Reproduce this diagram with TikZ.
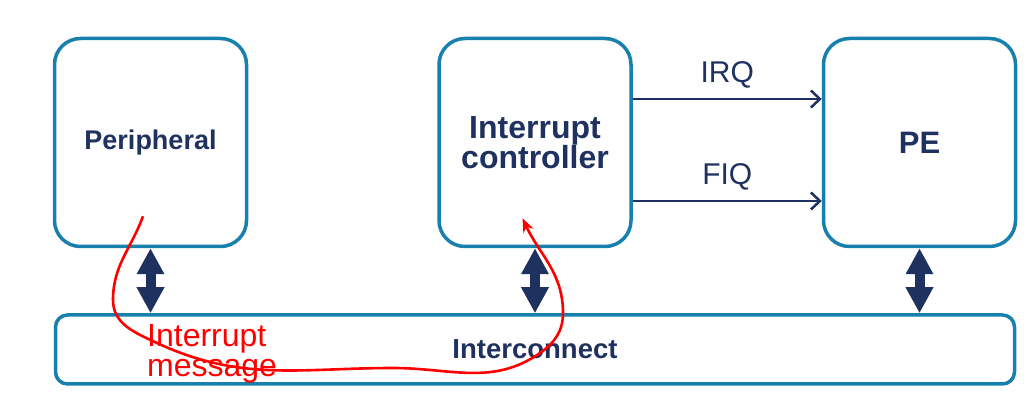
\documentclass[tikz,border=0pt]{standalone}
\usepackage{fontspec}
\setmainfont{Liberation Sans}
\usetikzlibrary{arrows.meta,positioning}
\definecolor{boxblue}{RGB}{24,128,172}
\definecolor{navy}{RGB}{31,49,94}

\begin{document}
\begin{tikzpicture}[
	x = 1pt, y = 1pt,
	> = {Straight Barb[length=9pt,width=17pt]}, % arrow head style
	node distance = 189pt, % gap between the blocks
	B/.style={rectangle, rounded corners=26pt, draw=boxblue, line width=3.5pt, minimum width=192pt, minimum height=208pt, inner sep=0pt, align=center, text=navy},
	bus/.style={rectangle, rounded corners=12pt, draw=boxblue, line width=3.5pt, minimum width=959pt, minimum height=69pt, inner sep=0pt, text=navy, font=\bfseries\fontsize{27.5}{30}\selectfont},
	link/.style={draw=navy, line width=10pt, {Triangle[length=26pt,width=26pt]}-{Triangle[length=26pt,width=26pt]}},
	sig/.style={->, draw=navy, line width=2.5pt},
	lbl/.style={inner sep=0pt, text=navy, font=\fontsize{30}{30}\selectfont},
	msg/.style={-{Stealth[length=14pt,width=11pt]}, draw=red, line width=2.6pt},
	]
	\useasboundingbox (0,0) rectangle (1036,401);

	% Blocks
	\node[B, font=\bfseries\fontsize{27}{30}\selectfont] (P) at (150.5,258.5) {Peripheral};
	\node[B, font=\bfseries\fontsize{32}{30}\selectfont] (IC) [right = of P] {Interrupt\\controller};
	\node[B, font=\bfseries\fontsize{31}{30}\selectfont] (PE) [right = of IC] {PE};
	\node[bus] (IX) [below = 65pt of IC] {Interconnect};

	% Bus links
	\draw[link] (P.south) -- (P.south |- IX.north);
	\draw[link] (IC.south) -- (IX.north);
	\draw[link] (PE.south) -- (PE.south |- IX.north);

	% Interrupt lines
	\draw[sig] ([yshift=43.5pt]IC.east) -- ([yshift=43.5pt]PE.west) node[lbl, midway, above=10pt] {IRQ};
	\draw[sig] ([yshift=-58.5pt]IC.east) -- ([yshift=-58.5pt]PE.west) node[lbl, midway, above=10pt] {FIQ};

	% Interrupt message
	\node[inner sep=0pt, anchor=west, align=left, text=red, font=\fontsize{32}{30}\selectfont] (note) at (147,47) {Interrupt\\message};
	\coordinate (m0) at ([shift={(-7.5,32)}]P.south);
	\coordinate (m1) at ([shift={(-12.5,30)}]IC.south);
	\draw[msg] (m0) to[out=250, in=90] (113,101) to[out=270, in=155] (157,58)
		to[out=-25, in=180] (393,33) to[out=0, in=215] (540,48)
		to[out=35, in=270] (563,88) to[out=90, in=295] (m1);

\end{tikzpicture}
\end{document}
